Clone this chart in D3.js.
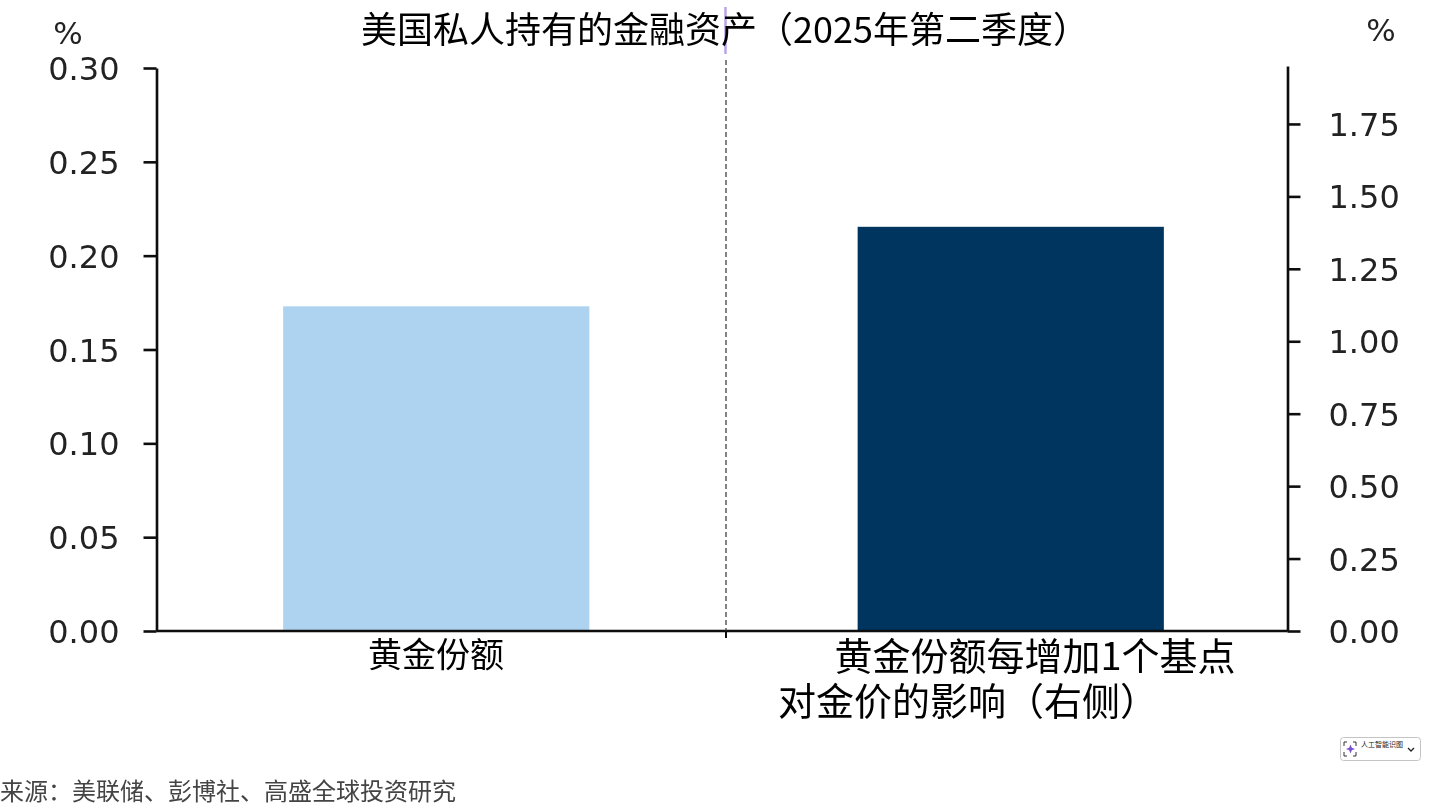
<!DOCTYPE html>
<html>
<head>
<meta charset="utf-8">
<script src="https://cdn.jsdelivr.net/npm/d3@7"></script>
<style>
  html, body { margin: 0; padding: 0; background: #fff; overflow: hidden; }
  text { font-family: "Noto Sans CJK SC", sans-serif; }
  .axis text { font-family: "DejaVu Sans", sans-serif; font-size: 32px; fill: #222; }
  .axis path, .axis line { stroke: #111; stroke-width: 2.6px; }
</style>
</head>
<body>
<script>
const title = "美国私人持有的金融资产（2025年第二季度）";
const source = "来源：美联储、彭博社、高盛全球投资研究";
const categories = ["黄金份额", "黄金份额每增加1个基点"];
const catLines = [["黄金份额"], ["黄金份额每增加1个基点", "对金价的影响（右侧）"]];
const values = [0.173, 1.395];
const barColors = ["#aed3f0", "#00355f"];
const leftTicks = [0, 0.05, 0.10, 0.15, 0.20, 0.25, 0.30];
const rightTicks = [0, 0.25, 0.50, 0.75, 1.00, 1.25, 1.50, 1.75];

const width = 1437, height = 807;
const plotTop = 68, plotBottom = 631, axisLeft = 156.5, axisRight = 1287.5;

const svg = d3.select("body").append("svg")
  .attr("width", width).attr("height", height);

const defs = svg.append("defs");
defs.append("filter").attr("id", "soft")
  .append("feGaussianBlur").attr("stdDeviation", 0.6);

const x = d3.scaleBand().domain(categories).range([149, 1298])
  .paddingInner(0.467).paddingOuter(0.2335);
const yLeft = d3.scaleLinear().domain([0, 0.30]).range([plotBottom, plotTop]);
const yRight = d3.scaleLinear().domain([0, 1.95]).range([plotBottom, plotTop - 2]);

const chart = svg.append("g").attr("filter", "url(#soft)");

// one bar per axis: left share, right price effect
chart.selectAll("rect.bar").data(categories).join("rect")
  .attr("class", "bar")
  .attr("x", d => x(d))
  .attr("width", x.bandwidth())
  .attr("y", (d, i) => i === 0 ? yLeft(values[i]) : yRight(values[i]))
  .attr("height", (d, i) => plotBottom - (i === 0 ? yLeft(values[i]) : yRight(values[i])))
  .attr("fill", (d, i) => barColors[i]);

const leftAxis = chart.append("g").attr("class", "axis")
  .attr("transform", "translate(" + axisLeft + ",0)")
  .call(d3.axisLeft(yLeft).tickValues(leftTicks).tickFormat(d3.format(".2f")).tickSizeInner(13).tickSizeOuter(0).tickPadding(24));
leftAxis.selectAll("text").attr("dy", "0.36em");

const rightAxis = chart.append("g").attr("class", "axis")
  .attr("transform", "translate(" + axisRight + ",0)")
  .call(d3.axisRight(yRight).tickValues(rightTicks).tickFormat(d3.format(".2f")).tickSizeInner(13).tickSizeOuter(0).tickPadding(28));
rightAxis.selectAll("text").attr("dy", "0.36em");

// baseline and separator
chart.append("line").attr("x1", axisLeft).attr("x2", axisRight)
  .attr("y1", plotBottom).attr("y2", plotBottom)
  .attr("stroke", "#111").attr("stroke-width", 2.6);
chart.append("line").attr("x1", 726).attr("x2", 726)
  .attr("y1", 60).attr("y2", plotBottom)
  .attr("stroke", "#333").attr("stroke-width", 1.2).attr("stroke-dasharray", "5 3");
chart.append("line").attr("x1", 726).attr("x2", 726)
  .attr("y1", plotBottom).attr("y2", plotBottom + 7)
  .attr("stroke", "#111").attr("stroke-width", 2);
chart.append("line").attr("x1", 725.5).attr("x2", 725.5)
  .attr("y1", 7).attr("y2", 54)
  .attr("stroke", "#b9a4e6").attr("stroke-width", 2.5);

chart.append("text").attr("x", 68).attr("y", 44).attr("text-anchor", "middle")
  .style("font-family", "DejaVu Sans").style("font-size", "31px").attr("fill", "#222").text("%");
chart.append("text").attr("x", 1381).attr("y", 41).attr("text-anchor", "middle")
  .style("font-family", "DejaVu Sans").style("font-size", "31px").attr("fill", "#222").text("%");

svg.append("text").attr("x", 361).attr("y", 43)
  .style("font-size", "36px").attr("fill", "#000").text(title);

// category labels, second one sits a bit left on its wrapped line
const labelX = [[436], [1035, 968]];
const labelY = [[667], [670, 715]];
catLines.forEach((lines, i) => {
  lines.forEach((t, j) => {
    svg.append("text").attr("x", labelX[i][j]).attr("y", labelY[i][j])
      .attr("text-anchor", "middle")
      .style("font-size", i === 0 ? "34px" : "38px").attr("fill", "#000").text(t);
  });
});

svg.append("text").attr("x", 0).attr("y", 800)
  .style("font-size", "24px").attr("fill", "#444").text(source);

// small badge at lower right
const badge = svg.append("g").attr("transform", "translate(1340,737)");
badge.append("rect").attr("x", 0.5).attr("y", 0.5).attr("width", 80).attr("height", 23).attr("rx", 3)
  .attr("fill", "#fff").attr("stroke", "#c4c4c4");
badge.append("path").attr("d", "M4 9V5H7M13 5H16V9M16 15V19H13M7 19H4V15")
  .attr("fill", "none").attr("stroke", "#333").attr("stroke-width", 1);
badge.append("path").attr("d", "M10.5 7.5L11.8 10.7L15 12L11.8 13.3L10.5 16.5L9.2 13.3L6 12L9.2 10.7Z")
  .attr("fill", "#7a4fd0");
badge.append("text").attr("x", 21).attr("y", 10).style("font-size", "7px").attr("fill", "#222").text("人工智能识图");
badge.append("path").attr("d", "M68 11L71 14L74 11").attr("fill", "none").attr("stroke", "#222").attr("stroke-width", 1.3);
</script>
</body>
</html>
